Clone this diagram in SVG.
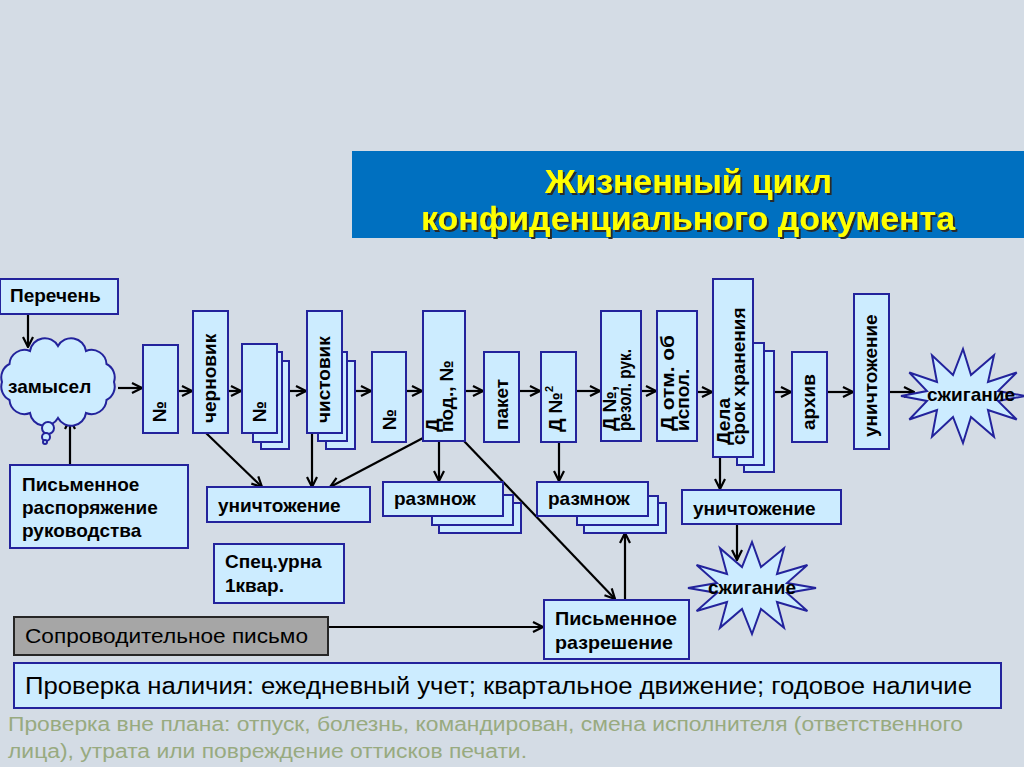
<svg xmlns="http://www.w3.org/2000/svg" width="1024" height="767" viewBox="0 0 1024 767">
<defs>
<marker id="ah" viewBox="0 0 12 12" refX="11" refY="6" markerWidth="12" markerHeight="12" markerUnits="userSpaceOnUse" orient="auto">
<path d="M1,1 L11,6 L1,11" fill="none" stroke="#000" stroke-width="2.2"/>
</marker>
<filter id="shd" x="-5%" y="-20%" width="110%" height="140%">
<feDropShadow dx="2" dy="2" stdDeviation="0.4" flood-color="#2a2a2a" flood-opacity="1"/>
</filter>
</defs>
<style>
.bx{fill:#ccecff;stroke:#23239c;stroke-width:2}
.lb{font-family:"Liberation Sans",Arial,sans-serif;font-weight:bold;font-size:19px;fill:#000}
.nr{font-family:"Liberation Sans Narrow","Liberation Sans",Arial,sans-serif;fill:#000}
.cn{fill:none;stroke:#000;stroke-width:2.2;marker-end:url(#ah)}
.tt{font-family:"Liberation Sans Narrow","Liberation Sans",Arial,sans-serif;font-weight:bold;font-size:33px;fill:#ffff00;filter:url(#shd)}
</style>
<rect x="0" y="0" width="1024" height="767" fill="#d4dce5"/>

<g id="title">
<rect x="352" y="151" width="672" height="87" fill="#0070c0"/>
<text class="tt" x="545" y="193" textLength="287" lengthAdjust="spacingAndGlyphs">Жизненный цикл</text>
<text class="tt" x="421" y="230" textLength="534" lengthAdjust="spacingAndGlyphs">конфиденциального документа</text>
</g>

<g id="connectors">
<line class="cn" x1="28" y1="314" x2="28" y2="347"/>
<line class="cn" x1="70" y1="465" x2="70" y2="419"/>
<line class="cn" x1="118" y1="388" x2="142" y2="388"/>
<line class="cn" x1="178" y1="391" x2="192" y2="391"/>
<line class="cn" x1="228" y1="391" x2="241" y2="391"/>
<line class="cn" x1="289" y1="391" x2="306" y2="391"/>
<line class="cn" x1="355" y1="391" x2="371" y2="391"/>
<line class="cn" x1="406" y1="391" x2="422" y2="391"/>
<line class="cn" x1="465" y1="391" x2="483" y2="391"/>
<line class="cn" x1="519" y1="391" x2="540" y2="391"/>
<line class="cn" x1="576" y1="391" x2="600" y2="391"/>
<line class="cn" x1="641" y1="391" x2="656" y2="391"/>
<line class="cn" x1="697" y1="392" x2="712" y2="392"/>
<line class="cn" x1="774" y1="392" x2="791" y2="392"/>
<line class="cn" x1="827" y1="392" x2="853" y2="392"/>
<line class="cn" x1="889" y1="392" x2="914" y2="392"/>
<line class="cn" x1="206" y1="433" x2="262" y2="487"/>
<line class="cn" x1="312" y1="433" x2="312" y2="487"/>
<line class="cn" x1="423" y1="438" x2="330" y2="487"/>
<line class="cn" x1="439" y1="441" x2="439" y2="481"/>
<line class="cn" x1="464" y1="441" x2="615" y2="599"/>
<line class="cn" x1="559" y1="442" x2="559" y2="481"/>
<line class="cn" x1="625" y1="600" x2="625" y2="533"/>
<line class="cn" x1="720" y1="457" x2="720" y2="489"/>
<line class="cn" x1="737" y1="524" x2="737" y2="560"/>
<line class="cn" x1="328" y1="627" x2="543" y2="627"/>
</g>

<g id="perechen">
<rect class="bx" x="0" y="279" width="118" height="35"/>
<text class="lb" x="10" y="302">Перечень</text>
</g>

<g id="zamysel">
<path class="bx" d="M114,382 A15,15 0 0,1 106.5,400 A15,15 0 0,1 86,413 A15,15 0 0,1 58,418 A15,15 0 0,1 30,413 A15,15 0 0,1 9.5,400 A15,15 0 0,1 2,382 A15,15 0 0,1 9.5,364 A15,15 0 0,1 30,351 A15,15 0 0,1 58,346 A15,15 0 0,1 86,351 A15,15 0 0,1 106.5,364 A15,15 0 0,1 114,382 Z"/>
<circle class="bx" cx="48" cy="428" r="6"/>
<circle class="bx" cx="46" cy="437" r="4"/>
<circle class="bx" cx="45" cy="442" r="2"/>
<text class="lb" x="8" y="393">замысел</text>
</g>

<g id="rasporyazhenie">
<rect class="bx" x="10" y="465" width="178" height="83"/>
<text class="lb" x="22" y="491">Письменное</text>
<text class="lb" x="22" y="514">распоряжение</text>
<text class="lb" x="22" y="537">руководства</text>
</g>

<g id="num1">
<rect class="bx" x="143" y="345" width="35" height="88"/>
<text class="lb" transform="translate(166,422) rotate(-90)">№</text>
</g>

<g id="chernovik">
<rect class="bx" x="193" y="311" width="35" height="122"/>
<text class="lb" transform="translate(216,423) rotate(-90)">черновик</text>
</g>

<g id="num2">
<rect class="bx" x="261" y="361" width="28" height="88"/>
<rect class="bx" x="253" y="352" width="29" height="90"/>
<rect class="bx" x="242" y="344" width="35" height="89"/>
<text class="lb" transform="translate(266,422) rotate(-90)">№</text>
</g>

<g id="chistovik">
<rect class="bx" x="326" y="361" width="29" height="88"/>
<rect class="bx" x="318" y="352" width="29" height="89"/>
<rect class="bx" x="307" y="311" width="35" height="122"/>
<text class="lb" transform="translate(330,423) rotate(-90)">чистовик</text>
</g>

<g id="num3">
<rect class="bx" x="372" y="352" width="34" height="90"/>
<text class="lb" transform="translate(396,430) rotate(-90)">№</text>
</g>

<g id="d-pod">
<rect class="bx" x="423" y="311" width="42" height="130"/>
<text class="lb" transform="translate(439,432) rotate(-90)">Д</text>
<text class="lb" font-size="17" transform="translate(453,432) rotate(-90)">под., №</text>
</g>

<g id="paket">
<rect class="bx" x="484" y="352" width="35" height="90"/>
<text class="lb" transform="translate(508,430) rotate(-90)">пакет</text>
</g>

<g id="d-num2">
<rect class="bx" x="541" y="352" width="35" height="90"/>
<text class="lb" transform="translate(562,432) rotate(-90)">Д №<tspan font-size="11" dy="-9">2</tspan></text>
</g>

<g id="d-rezol">
<rect class="bx" x="601" y="311" width="40" height="130"/>
<text class="lb" transform="translate(616,431) rotate(-90)">Д №,</text>
<text class="lb" font-size="17" transform="translate(631,431) rotate(-90)" textLength="82" lengthAdjust="spacingAndGlyphs">резол. рук.</text>
</g>

<g id="d-otm">
<rect class="bx" x="657" y="311" width="40" height="130"/>
<text class="lb" transform="translate(674,431) rotate(-90)" textLength="96" lengthAdjust="spacingAndGlyphs">Д отм. об</text>
<text class="lb" font-size="17" transform="translate(689,431) rotate(-90)">испол.</text>
</g>

<g id="dela">
<rect class="bx" x="744" y="351" width="30" height="121"/>
<rect class="bx" x="737" y="343" width="27" height="122"/>
<rect class="bx" x="713" y="279" width="40" height="178"/>
<text class="lb" transform="translate(730,445) rotate(-90)">Дела</text>
<text class="lb" transform="translate(745,445) rotate(-90)">срок хранения</text>
</g>

<g id="arhiv">
<rect class="bx" x="792" y="352" width="35" height="90"/>
<text class="lb" transform="translate(815,430) rotate(-90)">архив</text>
</g>

<g id="unichtozhenie-v">
<rect class="bx" x="854" y="294" width="35" height="155"/>
<text class="lb" transform="translate(877,437) rotate(-90)">уничтожение</text>
</g>

<g id="szhiganie1">
<polygon class="bx" points="1025,396 998,401 1016.7,419.5 988,410 994,436.7 971,417 963,443 953,417 932,436.7 937,410 909.3,419.5 927,401 901,396 927,391 909.3,372.5 937,382 932,355.3 953,375 963,349 971,375 994,355.3 988,382 1016.7,372.5 998,391"/>
<text class="lb" x="971" y="401" text-anchor="middle">сжигание</text>
</g>

<g id="unichtozhenie1">
<rect class="bx" x="207" y="487" width="163" height="35"/>
<text class="lb" x="218" y="512">уничтожение</text>
</g>

<g id="razmnozh1">
<rect class="bx" x="439" y="503" width="82" height="30"/>
<rect class="bx" x="432" y="495" width="81" height="30"/>
<rect class="bx" x="383" y="482" width="120" height="34"/>
<text class="lb" x="394" y="505">размнож</text>
</g>

<g id="razmnozh2">
<rect class="bx" x="584" y="503" width="82" height="30"/>
<rect class="bx" x="577" y="496" width="81" height="29"/>
<rect class="bx" x="537" y="482" width="111" height="34"/>
<text class="lb" x="548" y="505">размнож</text>
</g>

<g id="urna">
<rect class="bx" x="214" y="544" width="130" height="59"/>
<text class="lb" x="225" y="568">Спец.урна</text>
<text class="lb" x="225" y="592">1квар.</text>
</g>

<g id="razreshenie">
<rect class="bx" x="544" y="600" width="145" height="59"/>
<text class="lb" x="555" y="625" textLength="122" lengthAdjust="spacingAndGlyphs">Письменное</text>
<text class="lb" x="555" y="649" textLength="118" lengthAdjust="spacingAndGlyphs">разрешение</text>
</g>

<g id="unichtozhenie2">
<rect class="bx" x="682" y="490" width="159" height="34"/>
<text class="lb" x="693" y="515">уничтожение</text>
</g>

<g id="szhiganie2">
<polygon class="bx" points="816,588 787,593 807.4,611 777,602 784,627.8 761,609 752,634 742,609 720,627.8 727,602 696.6,611 717,593 688,588 717,583 696.6,565 727,574 720,548.2 742,567 752,542 761,567 784,548.2 777,574 807.4,565 787,583"/>
<text class="lb" x="752" y="594" text-anchor="middle">сжигание</text>
</g>

<g id="soprovod">
<rect x="14" y="617" width="314" height="38" fill="#a6a6a6" stroke="#262626" stroke-width="2"/>
<text class="nr" x="25" y="643" font-size="20" textLength="283" lengthAdjust="spacingAndGlyphs">Сопроводительное письмо</text>
</g>

<g id="proverka">
<rect class="bx" x="14" y="663" width="987" height="45"/>
<text class="nr" x="25" y="694" font-size="23" textLength="947" lengthAdjust="spacingAndGlyphs">Проверка наличия: ежедневный учет; квартальное движение; годовое наличие</text>
</g>

<g id="note">
<text class="nr" x="8" y="731" font-size="20" style="fill:#98aa80" textLength="955" lengthAdjust="spacingAndGlyphs">Проверка вне плана: отпуск, болезнь, командирован, смена исполнителя (ответственного</text>
<text class="nr" x="8" y="758" font-size="20" style="fill:#98aa80" textLength="519" lengthAdjust="spacingAndGlyphs">лица), утрата или повреждение оттисков печати.</text>
</g>
</svg>
